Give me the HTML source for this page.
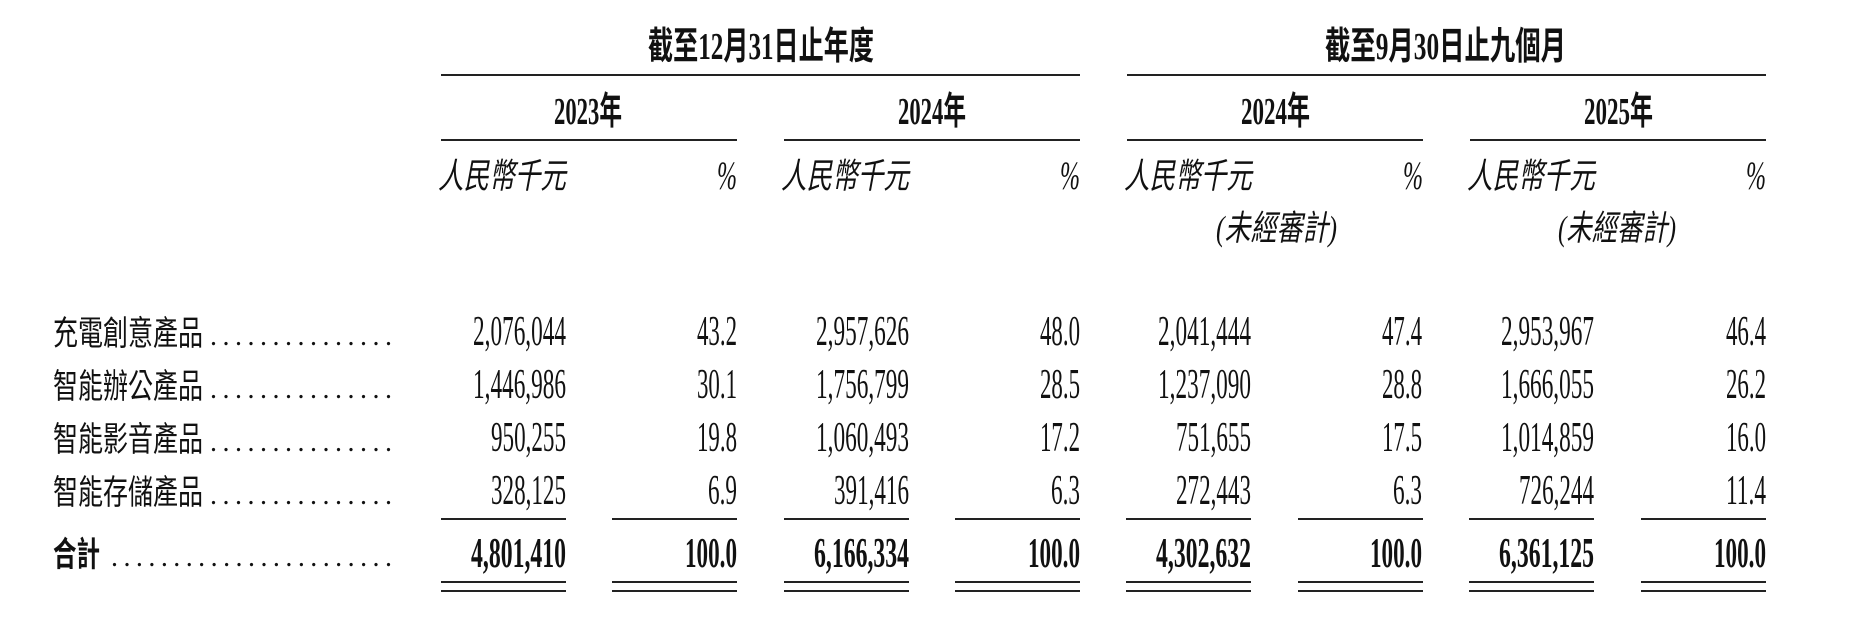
<!DOCTYPE html>
<html><head><meta charset="utf-8"><style>
html,body{margin:0;padding:0;background:#fff;}
svg{display:block}
text{fill:#111}
.s{font-family:"Liberation Serif","Noto Serif CJK SC",serif}
.c{font-family:"Liberation Serif","Noto Sans CJK TC",sans-serif}
.b{font-weight:bold}
</style></head><body>
<svg width="1868" height="640" viewBox="0 0 1868 640" xmlns="http://www.w3.org/2000/svg">
<g class="c b" font-size="38">
<text x="648" y="59" textLength="226" lengthAdjust="spacingAndGlyphs">截至12月31日止年度</text>
<text x="1325" y="59" textLength="241" lengthAdjust="spacingAndGlyphs">截至9月30日止九個月</text>
<text x="554" y="124" textLength="68" lengthAdjust="spacingAndGlyphs">2023年</text>
<text x="898" y="124" textLength="68" lengthAdjust="spacingAndGlyphs">2024年</text>
<text x="1241" y="124" textLength="69" lengthAdjust="spacingAndGlyphs">2024年</text>
<text x="1584" y="124" textLength="69" lengthAdjust="spacingAndGlyphs">2025年</text>
</g>
<g fill="#222">
<rect x="441" y="74" width="639" height="2"/>
<rect x="1127" y="74" width="639" height="2"/>
<rect x="441" y="139" width="296" height="2"/>
<rect x="784" y="139" width="296" height="2"/>
<rect x="1127" y="139" width="296" height="2"/>
<rect x="1470" y="139" width="296" height="2"/>
</g>
<g class="c" font-size="35" font-style="italic">
<text x="438" y="188" textLength="128" lengthAdjust="spacingAndGlyphs">人民幣千元</text>
<text x="781" y="188" textLength="128" lengthAdjust="spacingAndGlyphs">人民幣千元</text>
<text x="1124" y="188" textLength="128" lengthAdjust="spacingAndGlyphs">人民幣千元</text>
<text x="1467" y="188" textLength="128" lengthAdjust="spacingAndGlyphs">人民幣千元</text>
<text x="1216" y="240" textLength="121" lengthAdjust="spacingAndGlyphs">(未經審計)</text>
<text x="1558" y="240" textLength="118" lengthAdjust="spacingAndGlyphs">(未經審計)</text>
</g>
<g class="s" font-size="40" font-style="italic" text-anchor="end">
<text x="737" y="189" textLength="20" lengthAdjust="spacingAndGlyphs">%</text>
<text x="1080" y="189" textLength="20" lengthAdjust="spacingAndGlyphs">%</text>
<text x="1423" y="189" textLength="20" lengthAdjust="spacingAndGlyphs">%</text>
<text x="1766" y="189" textLength="20" lengthAdjust="spacingAndGlyphs">%</text>
</g>
<g class="c" font-size="34">
<text x="53" y="345" textLength="150" lengthAdjust="spacingAndGlyphs">充電創意產品</text>
<text x="53" y="398" textLength="150" lengthAdjust="spacingAndGlyphs">智能辦公產品</text>
<text x="53" y="451" textLength="150" lengthAdjust="spacingAndGlyphs">智能影音產品</text>
<text x="53" y="504" textLength="150" lengthAdjust="spacingAndGlyphs">智能存儲產品</text>
<text x="53" y="566" textLength="47" lengthAdjust="spacingAndGlyphs" font-weight="bold">合計</text>
</g>
<g class="s" font-size="28">
<text x="210" y="345" textLength="182" lengthAdjust="spacing">...............</text>
<text x="210" y="398" textLength="182" lengthAdjust="spacing">...............</text>
<text x="210" y="451" textLength="182" lengthAdjust="spacing">...............</text>
<text x="210" y="504" textLength="182" lengthAdjust="spacing">...............</text>
<text x="111" y="566" textLength="281" lengthAdjust="spacing">.......................</text>
</g>
<g class="s" font-size="42" text-anchor="end">
<text x="566" y="345" textLength="93" lengthAdjust="spacingAndGlyphs">2,076,044</text>
<text x="737" y="345" textLength="40" lengthAdjust="spacingAndGlyphs">43.2</text>
<text x="909" y="345" textLength="93" lengthAdjust="spacingAndGlyphs">2,957,626</text>
<text x="1080" y="345" textLength="40" lengthAdjust="spacingAndGlyphs">48.0</text>
<text x="1251" y="345" textLength="93" lengthAdjust="spacingAndGlyphs">2,041,444</text>
<text x="1422" y="345" textLength="40" lengthAdjust="spacingAndGlyphs">47.4</text>
<text x="1594" y="345" textLength="93" lengthAdjust="spacingAndGlyphs">2,953,967</text>
<text x="1766" y="345" textLength="40" lengthAdjust="spacingAndGlyphs">46.4</text>

<text x="566" y="398" textLength="93" lengthAdjust="spacingAndGlyphs">1,446,986</text>
<text x="737" y="398" textLength="40" lengthAdjust="spacingAndGlyphs">30.1</text>
<text x="909" y="398" textLength="93" lengthAdjust="spacingAndGlyphs">1,756,799</text>
<text x="1080" y="398" textLength="40" lengthAdjust="spacingAndGlyphs">28.5</text>
<text x="1251" y="398" textLength="93" lengthAdjust="spacingAndGlyphs">1,237,090</text>
<text x="1422" y="398" textLength="40" lengthAdjust="spacingAndGlyphs">28.8</text>
<text x="1594" y="398" textLength="93" lengthAdjust="spacingAndGlyphs">1,666,055</text>
<text x="1766" y="398" textLength="40" lengthAdjust="spacingAndGlyphs">26.2</text>

<text x="566" y="451" textLength="75" lengthAdjust="spacingAndGlyphs">950,255</text>
<text x="737" y="451" textLength="40" lengthAdjust="spacingAndGlyphs">19.8</text>
<text x="909" y="451" textLength="93" lengthAdjust="spacingAndGlyphs">1,060,493</text>
<text x="1080" y="451" textLength="40" lengthAdjust="spacingAndGlyphs">17.2</text>
<text x="1251" y="451" textLength="75" lengthAdjust="spacingAndGlyphs">751,655</text>
<text x="1422" y="451" textLength="40" lengthAdjust="spacingAndGlyphs">17.5</text>
<text x="1594" y="451" textLength="93" lengthAdjust="spacingAndGlyphs">1,014,859</text>
<text x="1766" y="451" textLength="40" lengthAdjust="spacingAndGlyphs">16.0</text>

<text x="566" y="504" textLength="75" lengthAdjust="spacingAndGlyphs">328,125</text>
<text x="737" y="504" textLength="29" lengthAdjust="spacingAndGlyphs">6.9</text>
<text x="909" y="504" textLength="75" lengthAdjust="spacingAndGlyphs">391,416</text>
<text x="1080" y="504" textLength="29" lengthAdjust="spacingAndGlyphs">6.3</text>
<text x="1251" y="504" textLength="75" lengthAdjust="spacingAndGlyphs">272,443</text>
<text x="1422" y="504" textLength="29" lengthAdjust="spacingAndGlyphs">6.3</text>
<text x="1594" y="504" textLength="75" lengthAdjust="spacingAndGlyphs">726,244</text>
<text x="1766" y="504" textLength="40" lengthAdjust="spacingAndGlyphs">11.4</text>
</g>
<g class="s b" font-size="42" text-anchor="end">
<text x="566" y="567" textLength="95" lengthAdjust="spacingAndGlyphs">4,801,410</text>
<text x="737" y="567" textLength="52" lengthAdjust="spacingAndGlyphs">100.0</text>
<text x="909" y="567" textLength="95" lengthAdjust="spacingAndGlyphs">6,166,334</text>
<text x="1080" y="567" textLength="52" lengthAdjust="spacingAndGlyphs">100.0</text>
<text x="1251" y="567" textLength="95" lengthAdjust="spacingAndGlyphs">4,302,632</text>
<text x="1422" y="567" textLength="52" lengthAdjust="spacingAndGlyphs">100.0</text>
<text x="1594" y="567" textLength="95" lengthAdjust="spacingAndGlyphs">6,361,125</text>
<text x="1766" y="567" textLength="52" lengthAdjust="spacingAndGlyphs">100.0</text>
</g>
<g fill="#222">
<rect x="441" y="518" width="125" height="2"/><rect x="612" y="518" width="125" height="2"/>
<rect x="784" y="518" width="125" height="2"/><rect x="955" y="518" width="125" height="2"/>
<rect x="1126" y="518" width="125" height="2"/><rect x="1298" y="518" width="125" height="2"/>
<rect x="1469" y="518" width="125" height="2"/><rect x="1641" y="518" width="125" height="2"/>

<rect x="441" y="581" width="125" height="2"/><rect x="612" y="581" width="125" height="2"/>
<rect x="784" y="581" width="125" height="2"/><rect x="955" y="581" width="125" height="2"/>
<rect x="1126" y="581" width="125" height="2"/><rect x="1298" y="581" width="125" height="2"/>
<rect x="1469" y="581" width="125" height="2"/><rect x="1641" y="581" width="125" height="2"/>

<rect x="441" y="590" width="125" height="2"/><rect x="612" y="590" width="125" height="2"/>
<rect x="784" y="590" width="125" height="2"/><rect x="955" y="590" width="125" height="2"/>
<rect x="1126" y="590" width="125" height="2"/><rect x="1298" y="590" width="125" height="2"/>
<rect x="1469" y="590" width="125" height="2"/><rect x="1641" y="590" width="125" height="2"/>
</g>
</svg>
</body></html>
